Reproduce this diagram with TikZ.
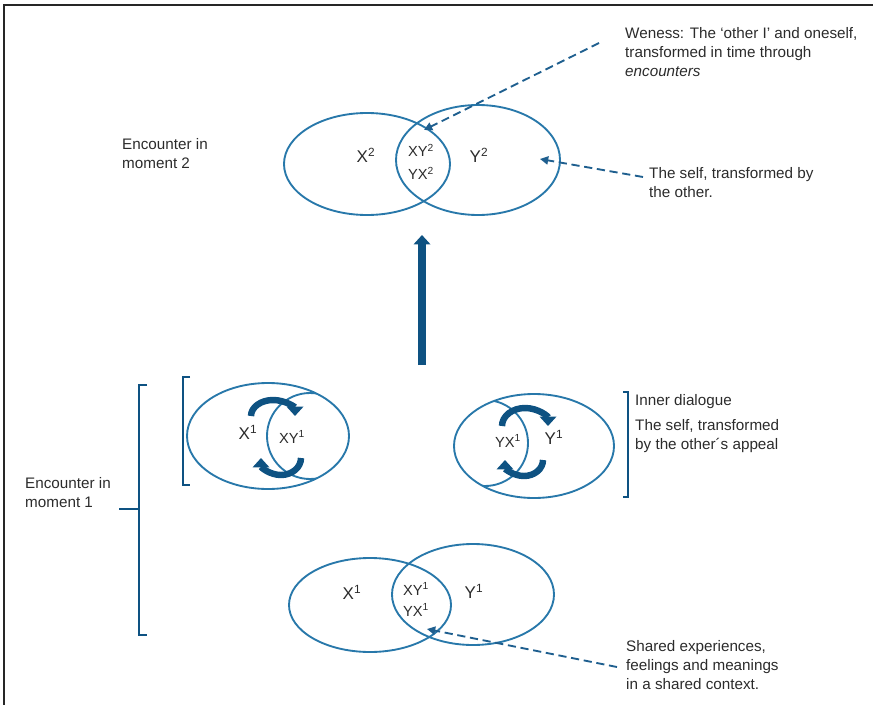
\documentclass[tikz,border=0pt]{standalone}
\usepackage{fontspec}
\setmainfont{Liberation Sans}
\usetikzlibrary{arrows.meta}
\definecolor{vennblue}{HTML}{2878AA}
\definecolor{noteblue}{HTML}{1F5F8F}
\definecolor{arrowblue}{HTML}{0E5282}
\definecolor{framegray}{HTML}{262626}
\definecolor{textgray}{HTML}{2B2B2B}

\begin{document}
\begin{tikzpicture}[x=0.03cm,y=-0.03cm,
	venn/.style={draw=vennblue,line width=1.6pt},
	note/.style={draw=noteblue,line width=1.6pt,dash pattern=on 7pt off 4pt,-{Triangle[length=7pt,width=7pt]}},
	turn/.style={draw=arrowblue,line width=5.5pt,-{Triangle[length=8pt,width=14pt]}},
	brace/.style={draw=arrowblue,line width=2pt},
	txt/.style={font=\fontsize{13}{16.2}\selectfont,text=textgray,align=left,inner sep=0pt,anchor=west},
	big/.style={font=\fontsize{14.5}{16}\selectfont,text=textgray,inner sep=0pt},
	small/.style={font=\fontsize{12.5}{14}\selectfont,text=textgray,inner sep=0pt}]
	\useasboundingbox (0,0) rectangle (873,705);
	\draw[framegray,line width=2.5pt] (4,720) -- (4,5) -- (890,5);
	
	% moment 2
	\draw[venn] (367,164) ellipse[x radius=83,y radius=51];
	\draw[venn] (478,160) ellipse[x radius=82,y radius=55];
	\node[big] (x2) at (366,155) {X\textsuperscript{2}};
	\node[small] (xy2) at (421,150) {XY\textsuperscript{2}};
	\node[small] (yx2) at (421,173) {YX\textsuperscript{2}};
	\node[big] (y2) at (479,155) {Y\textsuperscript{2}};
	
	\node[txt] (moment2) at (122,154) {Encounter in\\moment 2};
	\node[txt] (weness) at (625,52) {Weness: The ‘other I’ and oneself,\\transformed in time through\\\textit{encounters}};
	\node[txt] (selfnote) at (649,183) {The self, transformed by\\the other.};
	
	\coordinate (wenesstail) at (599,43);
	\coordinate (wenesstip) at (424,130);
	\coordinate (selftail) at (643,177);
	\coordinate (selftip) at (540,159);
	\draw[note] (wenesstail) -- (wenesstip);
	\draw[note] (selftail) -- (selftip);
	
	\coordinate (upfoot) at (422,365);
	\coordinate (uphead) at (422,235);
	\draw[arrowblue,line width=6pt,-{Triangle[length=8pt,width=14pt]}] (upfoot) -- (uphead);
	
	% moment 1, inner dialogue
	\draw[brace] (190,377) -- (183,377) -- (183,485) -- (190,485);
	\draw[venn] (268,436) ellipse[x radius=81,y radius=53];
	\begin{scope}
		\clip (268,436) ellipse[x radius=81,y radius=53];
		\draw[venn] (310,436) circle[radius=43];
	\end{scope}
	\node[big] (x1l) at (248,432) {X\textsuperscript{1}};
	\node[small] (xy1l) at (292,437) {XY\textsuperscript{1}};
	\draw[turn] (251,416) arc[start angle=180,end angle=360,x radius=22,y radius=16];
	\draw[turn] (301,458) arc[start angle=0,end angle=180,x radius=20,y radius=17];
	
	\draw[brace] (623,392) -- (628,392) -- (628,497) -- (623,497);
	\draw[venn] (534,446) ellipse[x radius=80,y radius=52];
	\begin{scope}
		\clip (534,446) ellipse[x radius=80,y radius=52];
		\draw[venn] (485,443) circle[radius=43];
	\end{scope}
	\node[small] (yx1r) at (508,441) {YX\textsuperscript{1}};
	\node[big] (y1r) at (554,437) {Y\textsuperscript{1}};
	\draw[turn] (502,426) arc[start angle=180,end angle=360,x radius=23,y radius=18];
	\draw[turn] (543,460) arc[start angle=0,end angle=180,x radius=19,y radius=16];
	
	\node[txt] (inner) at (635,402) {Inner dialogue};
	\node[txt] (selfappeal) at (635,436) {The self, transformed\\by the other´s appeal};
	
	% moment 1, shared
	\draw[brace] (147,385) -- (139,385) -- (139,635) -- (147,635);
	\draw[brace] (119,509) -- (139,509);
	\node[txt] (moment1) at (25,493) {Encounter in\\moment 1};
	
	\draw[venn] (370,605) ellipse[x radius=81,y radius=47];
	\draw[venn] (473,594.5) ellipse[x radius=81,y radius=50.5];
	\node[big] (x1) at (352,592) {X\textsuperscript{1}};
	\node[small] (xy1) at (416,589) {XY\textsuperscript{1}};
	\node[small] (yx1) at (416,610) {YX\textsuperscript{1}};
	\node[big] (y1) at (474,591) {Y\textsuperscript{1}};
	
	\node[txt] (shared) at (626,665) {Shared experiences,\\feelings and meanings\\in a shared context.};
	\coordinate (sharedtail) at (617,667);
	\coordinate (sharedtip) at (427,629);
	\draw[note] (sharedtail) -- (sharedtip);
\end{tikzpicture}
\end{document}
